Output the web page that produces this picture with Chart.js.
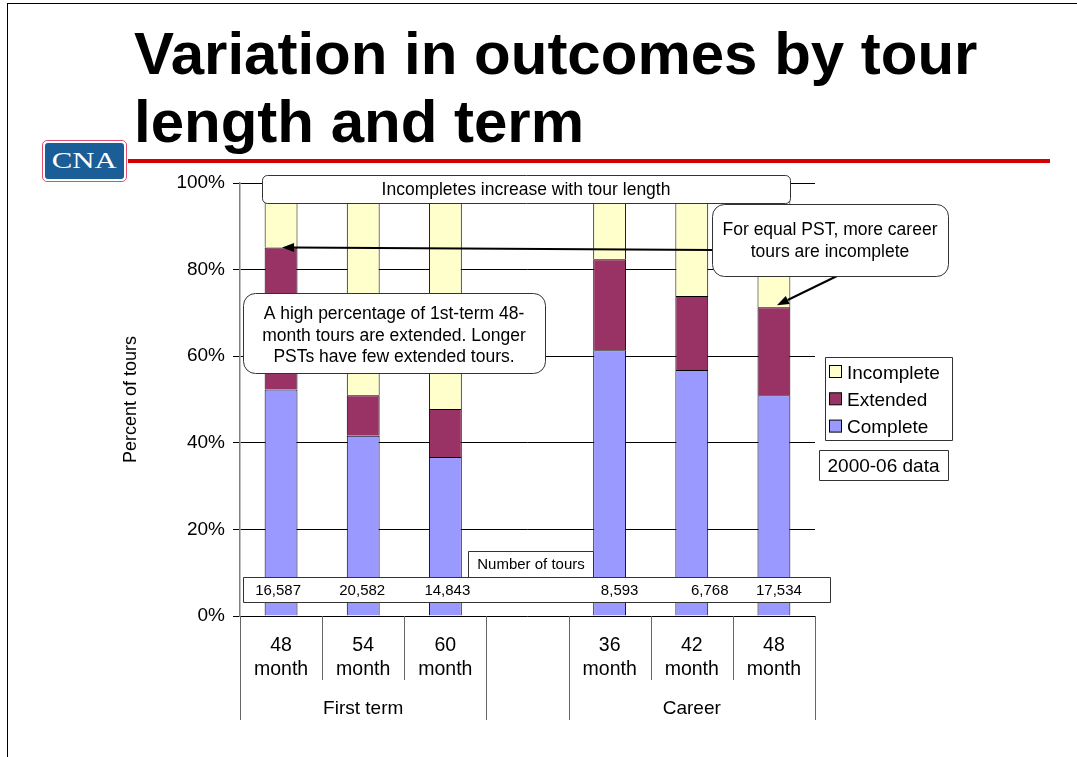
<!DOCTYPE html>
<html>
<head>
<meta charset="utf-8">
<title>Variation in outcomes by tour length and term</title>
<script src="https://cdn.jsdelivr.net/npm/chart.js@4.4.0/dist/chart.umd.min.js"></script>
<style>
  html, body { margin: 0; padding: 0; background: #fff; }
  body { width: 1077px; height: 757px; position: relative; overflow: hidden; font-family: "Liberation Sans", Arial, sans-serif; }
  #frame { position: absolute; left: 7px; top: 3px; width: 1100px; height: 800px; border-left: 1.5px solid #000; border-top: 1.5px solid #000; z-index: 3; }
  #chart { position: absolute; left: 0; top: 0; z-index: 1; }
  #title { position: absolute; left: 134px; top: 20px; margin: 0; font: bold 60px/68px "Liberation Sans", Arial, sans-serif; color: #000; z-index: 2; white-space: nowrap; }
  #rule { position: absolute; left: 128px; top: 159px; width: 922px; height: 4px; background: #d40000; z-index: 2; }
  #logo { position: absolute; left: 42px; top: 140px; width: 83px; height: 40px; border: 1.5px solid #e0506e; border-radius: 5px; background: #fff; z-index: 2; }
  #logo div { position: absolute; left: 2px; top: 2px; right: 2px; bottom: 2px; background: #1b5d97; border-radius: 3px; color: #fff; font: 23px/36px "Liberation Serif", "Times New Roman", serif; text-align: center; }
  #logo span { display: inline-block; transform: scaleX(1.34); }
</style>
</head>
<body>
<div id="frame"></div>
<h1 id="title">Variation in outcomes by tour<br>length and term</h1>
<div id="rule"></div>
<div id="logo"><div><span>CNA</span></div></div>
<canvas id="chart" width="1077" height="757"></canvas>

<script>
// tour length categories (the empty one is the gap between the two groups)
const categories = ['48 month', '54 month', '60 month', '', '36 month', '42 month', '48 month'];
const groupLabels = ['First term', 'Career'];
const groupSpans = [[0, 2], [4, 6]];

// percent of tours
const complete   = [52.3, 41.6, 36.7, null, 61.4, 56.8, 51.0];
const extended   = [32.8,  9.4, 11.1, null, 21.0, 17.1, 20.3];
const incomplete = [14.9, 49.0, 52.2, null, 17.6, 26.1, 28.7];

// number of tours under each bar
const tourCounts = ['16,587', '20,582', '14,843', '', '8,593', '6,768', '17,534'];

const yTicks = [0, 20, 40, 60, 80, 100];

const family = '"Liberation Sans", Arial, Helvetica, sans-serif';
const font = size => size + 'px ' + family;

function drawBox(ctx, x, y, w, h, r) {
  ctx.beginPath();
  if (r) ctx.roundRect(x + 0.5, y + 0.5, w, h, r);
  else ctx.rect(x + 0.5, y + 0.5, w, h);
  ctx.fillStyle = '#fff';
  ctx.fill();
  ctx.strokeStyle = '#333';
  ctx.lineWidth = 1;
  ctx.stroke();
}

function drawArrow(ctx, x1, y1, x2, y2) {
  const ang = Math.atan2(y2 - y1, x2 - x1);
  const len = 12, half = 4.5;
  const bx = x2 - Math.cos(ang) * len, by = y2 - Math.sin(ang) * len;
  ctx.strokeStyle = '#000';
  ctx.lineWidth = 2;
  ctx.beginPath();
  ctx.moveTo(x1, y1);
  ctx.lineTo(bx, by);
  ctx.stroke();
  ctx.fillStyle = '#000';
  ctx.beginPath();
  ctx.moveTo(x2, y2);
  ctx.lineTo(bx + Math.sin(ang) * half, by - Math.cos(ang) * half);
  ctx.lineTo(bx - Math.sin(ang) * half, by + Math.cos(ang) * half);
  ctx.closePath();
  ctx.fill();
}

function textLines(ctx, lines, cx, baseline, step) {
  lines.forEach((t, i) => ctx.fillText(t, cx, baseline + i * step));
}

/*
* Everything around the bars: the two-level category axis, the row of
* tour counts, the call-outs with their arrows and the legend box.
*/
const slideDecor = {
  id: 'slideDecor',
  afterDatasetsDraw(chart) {
    const { ctx, chartArea: a, scales: { x, y } } = chart;
    const w = (a.right - a.left) / categories.length;
    const edges = [];
    groupSpans.forEach(s => edges.push(s[0], s[1] + 1));

    ctx.save();

    // category dividers below the axis
    ctx.strokeStyle = '#666';
    ctx.lineWidth = 1;
    for (let k = 0; k <= categories.length; k++) {
      const px = Math.round(a.left + k * w) + 0.5;
      ctx.beginPath();
      ctx.moveTo(px, a.bottom);
      ctx.lineTo(px, edges.includes(k) ? 720 : 680);
      ctx.stroke();
    }

    // category labels
    ctx.fillStyle = '#000';
    ctx.textAlign = 'center';
    ctx.textBaseline = 'alphabetic';
    ctx.font = font(19.5);
    categories.forEach((c, i) => {
      if (!c) return;
      textLines(ctx, c.split(' '), x.getPixelForValue(i), 651, 24);
    });
    ctx.font = font(19);
    groupSpans.forEach((s, g) => {
      const cx = (x.getPixelForValue(s[0]) + x.getPixelForValue(s[1])) / 2;
      ctx.fillText(groupLabels[g], cx, 714);
    });

    // number of tours row
    drawBox(ctx, 468, 551, 125, 26, 0);
    drawBox(ctx, 243, 577, 587, 25, 0);
    ctx.fillStyle = '#000';
    ctx.font = font(15);
    ctx.fillText('Number of tours', 531, 569);
    const nudge = [-3, -1, 2, 0, 10, 18, 5];
    tourCounts.forEach((n, i) => {
      if (n) ctx.fillText(n, x.getPixelForValue(i) + nudge[i], 595);
    });

    // arrows, pointing at the tops of the extended segments
    drawArrow(ctx, 712, 250, x.getPixelForValue(0) + 1, y.getPixelForValue(complete[0] + extended[0]));
    drawArrow(ctx, 837, 276, x.getPixelForValue(6) + 3, y.getPixelForValue(complete[6] + extended[6]) - 2);

    // call-outs
    drawBox(ctx, 262, 175, 528, 28, 5);
    drawBox(ctx, 243, 293, 302, 80, 12);
    drawBox(ctx, 712, 204, 236, 72, 12);
    ctx.fillStyle = '#000';
    ctx.font = font(17.5);
    ctx.fillText('Incompletes increase with tour length', 526, 195);
    textLines(ctx, ['A high percentage of 1st-term 48-',
                    'month tours are extended. Longer',
                    'PSTs have few extended tours.'], 394, 319, 21.5);
    textLines(ctx, ['For equal PST, more career', 'tours are incomplete'], 830, 235, 22);

    // legend, top item first
    drawBox(ctx, 825, 357, 127, 83, 0);
    ctx.font = font(19);
    ctx.textAlign = 'left';
    chart.data.datasets.slice().reverse().forEach((ds, j) => {
      const cy = 371.5 + j * 27.3;
      ctx.fillStyle = ds.backgroundColor;
      ctx.fillRect(829.5, cy - 6, 12, 12);
      ctx.strokeStyle = '#000';
      ctx.strokeRect(829.5, cy - 6, 12, 12);
      ctx.fillStyle = '#000';
      ctx.fillText(ds.label, 847, cy + 7);
    });

    // data period note
    drawBox(ctx, 819, 450, 129, 30, 0);
    ctx.textAlign = 'center';
    ctx.fillStyle = '#000';
    ctx.fillText('2000-06 data', 883.5, 472);

    ctx.restore();
  }
};

const ctx = document.getElementById('chart');

new Chart(ctx, {
  type: 'bar',
  data: {
    labels: categories,
    datasets: [
      { label: 'Complete', data: complete, backgroundColor: '#9999FF' },
      { label: 'Extended', data: extended, backgroundColor: '#993366' },
      { label: 'Incomplete', data: incomplete, backgroundColor: '#FFFFCC' }
    ].map(ds => Object.assign(ds, {
      borderColor: '#000',
      borderWidth: 1,
      barPercentage: 0.4,
      categoryPercentage: 1.0
    }))
  },
  options: {
    responsive: false,
    animation: false,
    layout: { padding: { left: 110, right: 262, top: 183, bottom: 141 } },
    plugins: {
      legend: { display: false },
      tooltip: { enabled: false }
    },
    scales: {
      x: { stacked: true, display: false },
      y: {
        stacked: true,
        min: 0,
        max: 100,
        afterFit: scale => { scale.width = 130; },
        afterBuildTicks: scale => { scale.ticks = yTicks.map(v => ({ value: v })); },
        ticks: {
          callback: v => v + '%',
          color: '#000',
          padding: 8,
          font: { family: family, size: 19 }
        },
        grid: { color: '#000', lineWidth: 1, tickLength: 7 },
        border: { color: '#808080', width: 1.5 },
        title: {
          display: true,
          text: 'Percent of tours',
          color: '#000',
          font: { family: family, size: 18 },
          padding: { top: 10, bottom: 0 }
        }
      }
    }
  },
  plugins: [slideDecor]
});
</script>
</body>
</html>
